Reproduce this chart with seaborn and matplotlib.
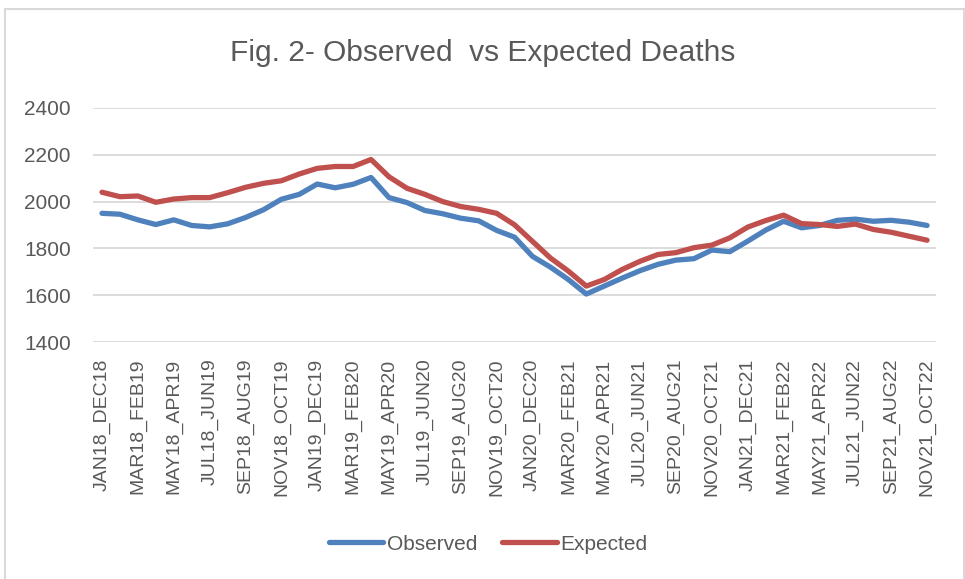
#!/usr/bin/env python3
"""Observed vs expected deaths, rolling 12-month totals."""

import matplotlib

matplotlib.use("Agg")

import matplotlib.pyplot as plt
from matplotlib.lines import Line2D
import pandas as pd
import seaborn as sns


PERIODS = [
    "JAN18_DEC18", "FEB18_JAN19", "MAR18_FEB19", "APR18_MAR19", "MAY18_APR19",
    "JUN18_MAY19", "JUL18_JUN19", "AUG18_JUL19", "SEP18_AUG19", "OCT18_SEP19",
    "NOV18_OCT19", "DEC18_NOV19", "JAN19_DEC19", "FEB19_JAN20", "MAR19_FEB20",
    "APR19_MAR20", "MAY19_APR20", "JUN19_MAY20", "JUL19_JUN20", "AUG19_JUL20",
    "SEP19_AUG20", "OCT19_SEP20", "NOV19_OCT20", "DEC19_NOV20", "JAN20_DEC20",
    "FEB20_JAN21", "MAR20_FEB21", "APR20_MAR21", "MAY20_APR21", "JUN20_MAY21",
    "JUL20_JUN21", "AUG20_JUL21", "SEP20_AUG21", "OCT20_SEP21", "NOV20_OCT21",
    "DEC20_NOV21", "JAN21_DEC21", "FEB21_JAN22", "MAR21_FEB22", "APR21_MAR22",
    "MAY21_APR22", "JUN21_MAY22", "JUL21_JUN22", "AUG21_JUL22", "SEP21_AUG22",
    "OCT21_SEP22", "NOV21_OCT22",
]

OBSERVED = [
    1950, 1946, 1922, 1902, 1922, 1898, 1892, 1905, 1932, 1965,
    2010, 2031, 2075, 2059, 2074, 2103, 2017, 1996, 1962, 1948,
    1929, 1918, 1877, 1848, 1766, 1720, 1667, 1605, 1639, 1673,
    1705, 1732, 1750, 1756, 1793, 1786, 1831, 1878, 1916, 1888,
    1898, 1920, 1925, 1916, 1920, 1912, 1898,
]

EXPECTED = [
    2040, 2021, 2024, 1997, 2011, 2017, 2017, 2038, 2061, 2078,
    2089, 2118, 2142, 2150, 2150, 2180, 2106, 2057, 2031, 2000,
    1979, 1967, 1950, 1901, 1830, 1759, 1703, 1639, 1667, 1710,
    1745, 1774, 1782, 1803, 1814, 1845, 1891, 1919, 1942, 1906,
    1902, 1894, 1904, 1881, 1869, 1852, 1835,
]

Y_TICKS = [1400, 1600, 1800, 2000, 2200, 2400]

TEXT_COLOR = "#595959"
PALETTE = {"Observed": "#4F81BD", "Expected": "#C0504D"}


def main() -> None:
    sns.set_theme(style="white")
    plt.rcParams["font.family"] = ["Liberation Sans", "DejaVu Sans"]

    fig = plt.figure(figsize=(9.65, 5.79), dpi=100)
    ax = fig.add_axes([0.0964, 0.4093, 0.8736, 0.4042])

    idx = list(range(len(PERIODS)))
    data = pd.DataFrame(
        {
            "pos": idx + idx,
            "deaths": OBSERVED + EXPECTED,
            "series": ["Observed"] * len(idx) + ["Expected"] * len(idx),
        }
    )
    sns.lineplot(
        data=data,
        x="pos",
        y="deaths",
        hue="series",
        hue_order=["Observed", "Expected"],
        palette=PALETTE,
        linewidth=3.8,
        legend=False,
        ax=ax,
    )
    for line in ax.get_lines():
        line.set_solid_capstyle("round")
        line.set_solid_joinstyle("round")

    ax.set_xlim(-0.5, len(PERIODS) - 0.5)
    ax.set_ylim(1400, 2400)
    ax.set_yticks(Y_TICKS)
    ax.set_yticklabels([str(v) for v in Y_TICKS])
    ax.set_xticks(idx[::2])
    ax.set_xticklabels(PERIODS[::2], rotation=90, va="top", ha="center")
    ax.grid(axis="y", color="#D9D9D9", linewidth=1.3)
    ax.set_axisbelow(True)
    for spine in ax.spines.values():
        spine.set_visible(False)
    ax.tick_params(axis="y", length=0, pad=16, labelsize=15, labelcolor=TEXT_COLOR)
    ax.tick_params(axis="x", length=0, pad=12, labelsize=14, labelcolor=TEXT_COLOR)
    ax.set_xlabel("")
    ax.set_ylabel("")

    fig.text(
        0.5,
        1 - 53 / 579,
        "Fig. 2- Observed  vs Expected Deaths",
        ha="center",
        va="center",
        fontsize=21.5,
        color=TEXT_COLOR,
    )

    handles = [
        Line2D([0], [0], color=PALETTE[name], linewidth=3.8, solid_capstyle="round", label=name)
        for name in ["Observed", "Expected"]
    ]
    leg = fig.legend(
        handles=handles,
        loc="center",
        bbox_to_anchor=(0.506, 1 - 544 / 579),
        ncol=2,
        frameon=False,
        fontsize=15,
        handlelength=2.6,
        handletextpad=0.2,
        columnspacing=1.2,
    )
    for text in leg.get_texts():
        text.set_color(TEXT_COLOR)

    # thin chart-area border (left, top, right)
    border = "#D9D9D9"
    x0, x1, y1 = 5 / 965, 964 / 965, 1 - 9 / 579
    fig.add_artist(Line2D([x0, x0], [0, y1], color=border, linewidth=1.5))
    fig.add_artist(Line2D([x0, x1], [y1, y1], color=border, linewidth=1.5))
    fig.add_artist(Line2D([x1, x1], [0, y1], color=border, linewidth=1.5))

    fig.savefig("out.png", dpi=100)
    plt.close(fig)


if __name__ == "__main__":
    main()
